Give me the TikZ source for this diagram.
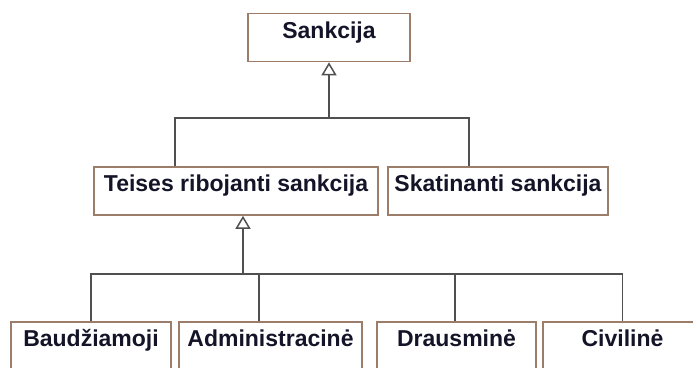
\documentclass[tikz,border=0pt]{standalone}
\usepackage{fontspec}
\setmainfont{Liberation Sans}
\usepackage{tikz}
\definecolor{boxbrown}{RGB}{155,125,105}
\definecolor{linegray}{RGB}{80,80,80}
\definecolor{textdark}{RGB}{20,20,40}
\usetikzlibrary{shapes,arrows.meta}
\tikzstyle{block} = [rectangle, draw=boxbrown, line width=1.6pt, text=textdark,
    minimum height=48pt, text height=20pt, text depth=19pt, inner ysep=4.5pt,
    font=\bfseries\fontsize{23}{27}\selectfont]
\tikzstyle{line} = [draw=linegray, line width=1.5pt]
\tikzstyle{gen} = [draw=linegray, line width=1.5pt, -{Triangle[open, width=15pt, length=13pt]}]

\begin{document}
\begin{tikzpicture}[x=1pt, y=-1pt]
    \useasboundingbox (0,0) rectangle (693,367);
    % Place nodes
    \node [block, minimum width=162pt] (sank) at (329,37.5) {Sankcija};
    \node [block, minimum width=284pt, below of=sank, node distance=153.5pt, xshift=-93pt] (tlim) {Teises ribojanti sankcija};
    \node [block, minimum width=220pt, right of=tlim, node distance=262pt] (skat) {Skatinanti sankcija};
    \node [block, minimum width=160pt, below of=tlim, node distance=155pt, xshift=-145pt] (baud) {Baudžiamoji};
    \node [block, minimum width=183pt, right of=baud, node distance=179.5pt] (adm) {Administracinė};
    \node [block, minimum width=159pt, right of=adm, node distance=186pt] (draus) {Drausminė};
    \node [block, minimum width=159pt, right of=draus, node distance=166pt] (civ) {Civilinė};
    \coordinate [below of=sank, node distance=80.5pt] (busA);
    \coordinate (busB) at ([xshift=7pt, yshift=-58pt]tlim.south);
    % Draw edges
    \path [gen] (busA) -- (sank.south);
    \path [line] ([xshift=-61pt]tlim.north) |- (busA) -| ([xshift=-29pt]skat.north);
    \path [gen] (busB) -- ([xshift=7pt]tlim.south);
    \path [line] (baud.north) |- (busB) -| (civ.north);
    \path [line] ([xshift=-11.5pt]adm.north) |- (busB);
    \path [line] ([xshift=-1.5pt]draus.north) |- (busB);
\end{tikzpicture}
\end{document}
